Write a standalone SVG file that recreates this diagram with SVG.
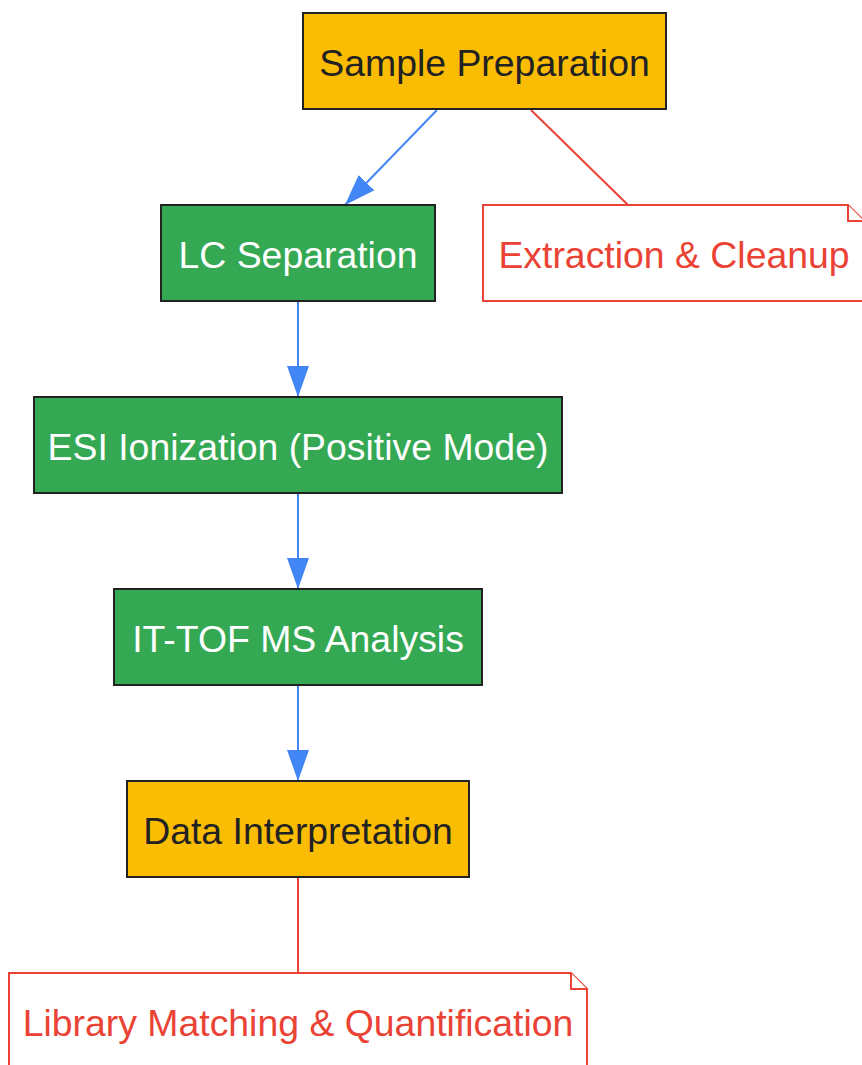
<svg xmlns="http://www.w3.org/2000/svg" width="862" height="1065" viewBox="0 0 862 1065">
<style>
.box{stroke:#222;stroke-width:2}
.y{fill:#FBBC04}
.g{fill:#34A853}
.note{fill:#fff;stroke:#EA4335;stroke-width:2}
.t{font-family:"Liberation Sans",Arial,sans-serif;font-size:37.4px;text-anchor:middle}
.dk{fill:#222}
.wh{fill:#fff}
.rd{fill:#EA4335}
.flow{stroke:#4285F4;stroke-width:2;fill:none;marker-end:url(#ah)}
.link{stroke:#EA4335;stroke-width:2;fill:none}
</style>
<defs>
<marker id="ah" markerUnits="userSpaceOnUse" markerWidth="31" markerHeight="22" refX="31" refY="11" orient="auto">
<path d="M0,0 L31,11 L0,22 Z" fill="#4285F4"/>
</marker>
</defs>
<g id="connectors">
<line class="flow" x1="437" y1="110" x2="345" y2="205"/>
<line class="link" x1="531" y1="110" x2="628" y2="205"/>
<line class="flow" x1="298" y1="302" x2="298" y2="397"/>
<line class="flow" x1="298" y1="494" x2="298" y2="589"/>
<line class="flow" x1="298" y1="686" x2="298" y2="781"/>
<line class="link" x1="298" y1="878" x2="298" y2="973"/>
</g>
<g id="sample">
<rect class="box y" x="303" y="13" width="363" height="96"/>
<text class="t dk" x="484.5" y="76">Sample Preparation</text>
</g>
<g id="lc">
<rect class="box g" x="161" y="205" width="274" height="96"/>
<text class="t wh" x="298" y="268">LC Separation</text>
</g>
<g id="extraction">
<path class="note" d="M483,205 H848 L864,221 V301 H483 Z"/>
<path class="note" d="M848,205 V221 H864"/>
<text class="t rd" x="674" y="268">Extraction &amp; Cleanup</text>
</g>
<g id="esi">
<rect class="box g" x="34" y="397" width="528" height="96"/>
<text class="t wh" x="298" y="460">ESI Ionization (Positive Mode)</text>
</g>
<g id="ittof">
<rect class="box g" x="114" y="589" width="368" height="96"/>
<text class="t wh" x="298" y="652">IT-TOF MS Analysis</text>
</g>
<g id="data">
<rect class="box y" x="127" y="781" width="342" height="96"/>
<text class="t dk" x="298" y="844">Data Interpretation</text>
</g>
<g id="library">
<path class="note" d="M9,973 H571 L587,989 V1080 H9 Z"/>
<path class="note" d="M571,973 V989 H587"/>
<text class="t rd" x="298" y="1036">Library Matching &amp; Quantification</text>
</g>
</svg>
